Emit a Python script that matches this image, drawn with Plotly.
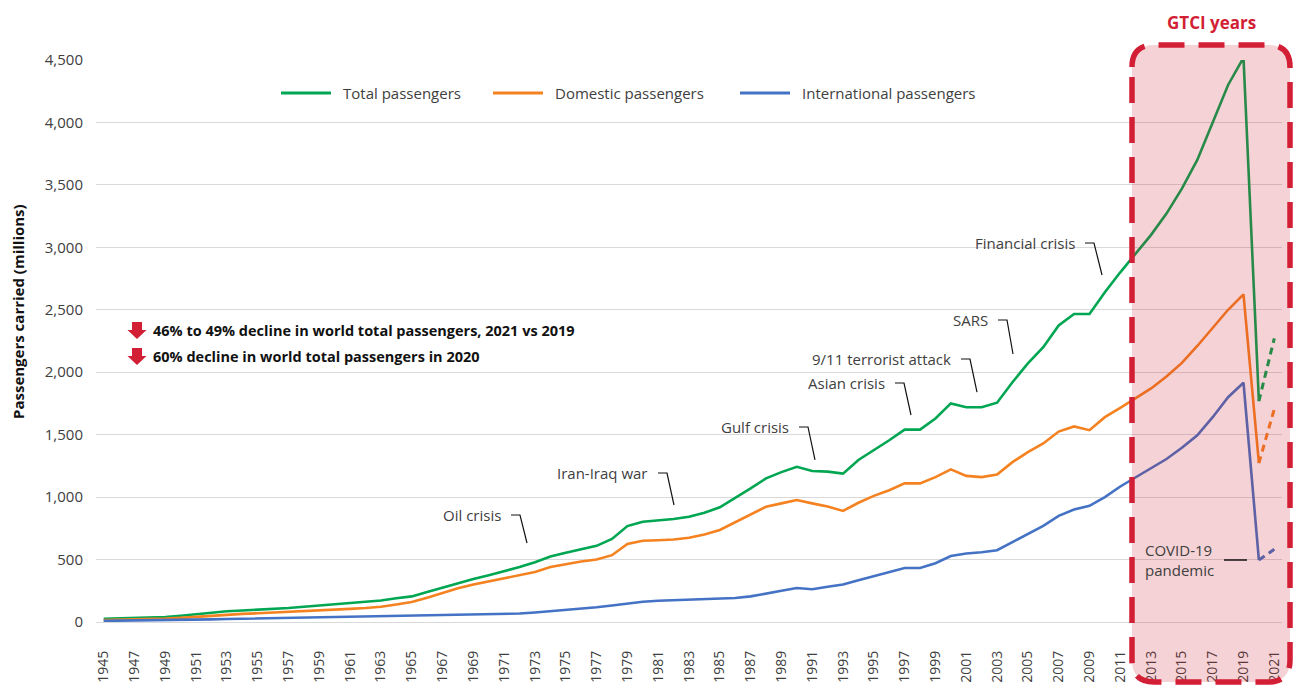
import plotly.graph_objects as go

years = list(range(1945, 2022))

total = [25, 28, 32, 36, 40, 50, 62, 75, 86, 92, 98, 105, 112, 122, 132, 140, 150, 158, 172, 190,
         205, 240, 275, 315, 345, 375, 405, 440, 478, 525, 555, 585, 610, 665, 768, 803, 815, 825,
         843, 875, 918, 993, 1070, 1150, 1200, 1243, 1209, 1204, 1188, 1297, 1375, 1455, 1540,
         1540, 1630, 1750, 1719, 1719, 1756, 1920, 2070, 2200, 2375, 2466, 2466, 2640, 2800,
         2950, 3100, 3270, 3470, 3700, 3995, 4300, 4518, 1769, 2271]

domestic = [16, 18, 21, 24, 27, 33, 42, 52, 60, 65, 70, 75, 80, 88, 95, 100, 105, 112, 122, 140,
            160, 195, 235, 270, 300, 325, 350, 375, 400, 440, 465, 485, 500, 535, 625, 650, 655,
            660, 675, 700, 737, 800, 865, 923, 950, 977, 950, 925, 889, 955, 1010, 1055, 1110,
            1110, 1160, 1222, 1170, 1160, 1180, 1280, 1360, 1430, 1525, 1566, 1536, 1640, 1715,
            1790, 1870, 1965, 2075, 2210, 2355, 2500, 2623, 1273, 1705]

international = [9, 10, 11, 12, 13, 15, 18, 21, 24, 26, 28, 30, 32, 34, 36, 38, 40, 42, 44, 46,
                 48, 50, 52, 54, 56, 58, 62, 68, 76, 85, 95, 108, 118, 132, 148, 162, 170, 174,
                 178, 182, 186, 192, 205, 225, 250, 272, 262, 282, 300, 335, 368, 402, 432, 432,
                 470, 528, 548, 558, 575, 640, 705, 770, 850, 900, 930, 1000, 1085, 1160, 1230,
                 1305, 1395, 1495, 1640, 1800, 1916, 496, 582]

series_names = ["Total passengers", "Domestic passengers", "International passengers"]
series_colors = ["#00a651", "#f58220", "#4472c4"]
series_values = [total, domestic, international]

x_tick_years = years[::2]
y_tick_vals = list(range(0, 4501, 500))

events = [
    ("Oil crisis", 503, 515, 527, 543),
    ("Iran-Iraq war", 650, 473, 674, 505),
    ("Gulf crisis", 791, 427, 815, 460),
    ("Asian crisis", 887, 383, 911, 415),
    ("9/11 terrorist attack", 953, 359, 977, 392),
    ("SARS", 990, 320, 1013, 354),
    ("Financial crisis", 1077, 243, 1102, 275),
]

W, H = 1293, 687
L, R, T, B = 96, 11, 60, 65
PW, PH = W - L - R, H - T - B

def px(x):
    return (x - L) / PW

def py(y):
    return (H - B - y) / PH

FONT = "Open Sans, Noto Sans, sans-serif"
TXT = "#404040"
RED = "#d31f35"

fig = go.Figure()
for name, col, vals in zip(series_names, series_colors, series_values):
    fig.add_trace(go.Scatter(x=years[:-1], y=vals[:-1], mode="lines", name=name,
                             line=dict(color=col, width=2.6), showlegend=False))
    fig.add_trace(go.Scatter(x=years[-2:], y=vals[-2:], mode="lines", name=name,
                             line=dict(color=col, width=3, dash="7px,5px"), showlegend=False))

shapes = []
annotations = []

def ann(text, x, y, xanchor="center", size=15, color=TXT, **kw):
    annotations.append(dict(text=text, x=px(x), y=py(y), xref="paper", yref="paper",
                            xanchor=xanchor, yanchor="middle", showarrow=False,
                            font=dict(family=FONT, size=size, color=color), **kw))

# GTCI box
bx0, bx1, by0, by1, r = 1132, 1290, 45, 682, 22
def pt(x, y):
    return f"{px(x):.5f},{py(y):.5f}"
path = (f"M {pt(bx0, by0 + r)} Q {pt(bx0, by0)} {pt(bx0 + r, by0)} L {pt(bx1 - r, by0)} "
        f"Q {pt(bx1, by0)} {pt(bx1, by0 + r)} L {pt(bx1, by1 - r)} Q {pt(bx1, by1)} {pt(bx1 - r, by1)} "
        f"L {pt(bx0 + r, by1)} Q {pt(bx0, by1)} {pt(bx0, by1 - r)} Z")
shapes.append(dict(type="path", path=path, xref="paper", yref="paper", layer="above",
                   fillcolor="rgba(200,30,45,0.2)", line=dict(width=0)))
shapes.append(dict(type="path", path=path, xref="paper", yref="paper", layer="above",
                   fillcolor="rgba(0,0,0,0)", line=dict(color=RED, width=5.5, dash="26px,14px")))
ann("<b>GTCI years</b>", 1211, 23, "center", size=17, color=RED)

# Legend (manual)
legend_items = [(281, 341), (493, 553), (740, 800)]
for (lx, tx), name, col in zip(legend_items, series_names, series_colors):
    shapes.append(dict(type="line", xref="paper", yref="paper", x0=px(lx), x1=px(lx + 50),
                       y0=py(93), y1=py(93), line=dict(color=col, width=3)))
    ann(name, tx, 93, "left")

# Event annotations with leader lines
for text, tx, ty, ex, ey in events:
    ann(text, tx, ty, "right")
    p = f"M {pt(tx + 8, ty)} L {pt(tx + 17, ty)} L {pt(ex, ey)}"
    shapes.append(dict(type="path", path=p, xref="paper", yref="paper",
                       line=dict(color="#111111", width=1.2)))

# COVID-19 annotation
ann("COVID-19<br>pandemic", 1143, 560, "left", align="left")
shapes.append(dict(type="line", xref="paper", yref="paper", x0=px(1224), x1=px(1247),
                   y0=py(560), y1=py(560), line=dict(color="#111111", width=1.5), layer="above"))

# Bold statements with red arrows
statements = ["<b>46% to 49% decline in world total passengers, 2021 vs 2019</b>",
              "<b>60% decline in world total passengers in 2020</b>"]
for i, s in enumerate(statements):
    cy = 330 + 26 * i
    ann(s, 151, cy, "left", size=14.5, color="#111111")
    ap = (f"M {pt(132, cy - 8)} L {pt(142, cy - 8)} L {pt(142, cy)} L {pt(146.5, cy)} "
          f"L {pt(137, cy + 9)} L {pt(127.5, cy)} L {pt(132, cy)} Z")
    shapes.append(dict(type="path", path=ap, xref="paper", yref="paper", fillcolor=RED,
                       line=dict(width=0)))

# Y axis title
ann("<b>Passengers carried (millions)</b>", 18, 312, "center", size=15, color="#111111",
    textangle=-90)

fig.update_layout(
    width=W, height=H,
    margin=dict(l=L, r=R, t=T, b=B, autoexpand=False),
    paper_bgcolor="white", plot_bgcolor="white",
    showlegend=False,
    shapes=shapes, annotations=annotations,
    xaxis=dict(range=[1944.5, 2021.5], tickmode="array", tickvals=x_tick_years,
               ticktext=[str(y) for y in x_tick_years], tickangle=-90, automargin=False,
               tickfont=dict(family=FONT, size=14, color=TXT), showgrid=False,
               zeroline=False, showline=False, ticks="", ticklabelstandoff=25, fixedrange=True),
    yaxis=dict(range=[0, 4500], tickmode="array", tickvals=y_tick_vals, tickformat=",",
               automargin=False,
               tickfont=dict(family=FONT, size=15, color=TXT), showgrid=True, gridcolor="#d9d9d9",
               gridwidth=1, zeroline=True, zerolinecolor="#d9d9d9", zerolinewidth=1,
               showline=False, ticks="", ticklabelstandoff=12, fixedrange=True),
)

fig.write_html("out.html")
